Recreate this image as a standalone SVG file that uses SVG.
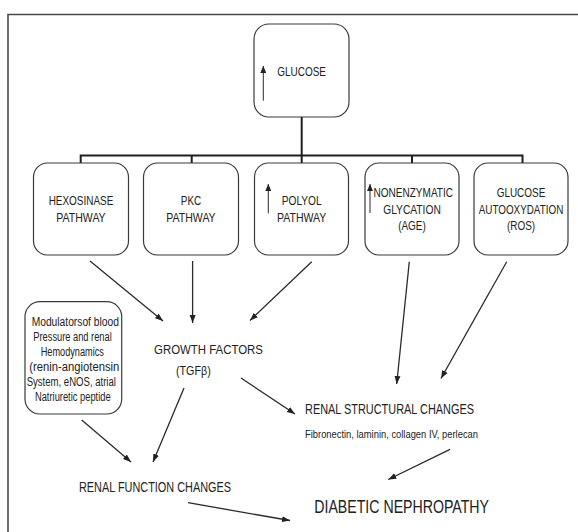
<svg xmlns="http://www.w3.org/2000/svg" width="578" height="532" viewBox="0 0 578 532">
<style>
  .box { fill: #fff; stroke: #3a3a3a; stroke-width: 1.2; }
  .t { font-family: "Liberation Sans", Arial, sans-serif; fill: #222; }
  .s12 { font-size: 12px; }
  .s14 { font-size: 14px; }
  .tree { stroke: #1e1e1e; stroke-width: 2; fill: none; }
  .c { stroke: #2a2a2a; stroke-width: 1.3; fill: none; marker-end: url(#ah); }
  .up { stroke: #2a2a2a; stroke-width: 1; fill: none; marker-end: url(#ahs); }
</style>
<defs>
  <marker id="ah" markerUnits="userSpaceOnUse" markerWidth="9" markerHeight="7" refX="8" refY="3.5" orient="auto">
    <path d="M0,0.5 L8,3.5 L0,6.5 z" fill="#222"/>
  </marker>
  <marker id="ahs" markerUnits="userSpaceOnUse" markerWidth="8" markerHeight="6" refX="7" refY="3" orient="auto">
    <path d="M0,0 L7,3 L0,6 z" fill="#222"/>
  </marker>
</defs>
<rect width="578" height="532" fill="#fff"/>
<path d="M8,532 L8,14.5 L578,14.5" stroke="#4a4a4a" stroke-width="1.6" fill="none"/>

<g id="connectors">
  <path class="tree" d="M301.7,117 V155.5 M80.7,163 V155.5 H522.5 V163 M191.7,155.5 V163 M301.7,155.5 V163 M412,155.5 V163"/>
  <line class="c" x1="90" y1="261" x2="163" y2="321"/>
  <line class="c" x1="192.6" y1="261" x2="192.6" y2="323"/>
  <line class="c" x1="311.7" y1="261.7" x2="250" y2="320.5"/>
  <line class="c" x1="409.3" y1="261.7" x2="396.7" y2="384"/>
  <line class="c" x1="506.7" y1="261.7" x2="441" y2="378.5"/>
  <line class="c" x1="241" y1="378" x2="295" y2="414"/>
  <line class="c" x1="184" y1="388" x2="153" y2="462"/>
  <line class="c" x1="81.7" y1="420" x2="131" y2="462"/>
  <line class="c" x1="450" y1="449.3" x2="388.3" y2="479.5"/>
  <line class="c" x1="188" y1="502.7" x2="290" y2="520.5"/>
</g>

<g id="glucose">
  <rect class="box" x="254" y="24" width="95" height="93" rx="15"/>
  <line class="up" x1="263.3" y1="100.7" x2="263.3" y2="66"/>
  <text class="t s12" x="277.3" y="76" textLength="48.7" lengthAdjust="spacingAndGlyphs">GLUCOSE</text>
</g>

<g id="hexosinase">
  <rect class="box" x="33.5" y="163" width="95" height="92" rx="14"/>
  <text class="t s12" x="81" y="205.3" text-anchor="middle" textLength="64.7" lengthAdjust="spacingAndGlyphs">HEXOSINASE</text>
  <text class="t s12" x="81" y="221.6" text-anchor="middle" textLength="49.3" lengthAdjust="spacingAndGlyphs">PATHWAY</text>
</g>

<g id="pkc">
  <rect class="box" x="143.5" y="163" width="95" height="92" rx="14"/>
  <text class="t s12" x="191" y="205.3" text-anchor="middle" textLength="20.5" lengthAdjust="spacingAndGlyphs">PKC</text>
  <text class="t s12" x="191" y="221.6" text-anchor="middle" textLength="49.3" lengthAdjust="spacingAndGlyphs">PATHWAY</text>
</g>

<g id="polyol">
  <rect class="box" x="254.5" y="163" width="94" height="92" rx="14"/>
  <line class="up" x1="268.3" y1="213.3" x2="268.3" y2="184"/>
  <text class="t s12" x="301.7" y="205.3" text-anchor="middle" textLength="39.9" lengthAdjust="spacingAndGlyphs">POLYOL</text>
  <text class="t s12" x="301.7" y="221.6" text-anchor="middle" textLength="49.3" lengthAdjust="spacingAndGlyphs">PATHWAY</text>
</g>

<g id="nonenzymatic">
  <rect class="box" x="365" y="163" width="94" height="92" rx="14"/>
  <line class="up" x1="370" y1="213" x2="370" y2="184"/>
  <text class="t s12" x="373.5" y="197" textLength="79.5" lengthAdjust="spacingAndGlyphs">NONENZYMATIC</text>
  <text class="t s12" x="412" y="214.3" text-anchor="middle" textLength="57.6" lengthAdjust="spacingAndGlyphs">GLYCATION</text>
  <text class="t s12" x="412" y="230.3" text-anchor="middle" textLength="27.7" lengthAdjust="spacingAndGlyphs">(AGE)</text>
</g>

<g id="autooxydation">
  <rect class="box" x="474" y="163" width="94" height="92" rx="14"/>
  <text class="t s12" x="521" y="197" text-anchor="middle" textLength="48.7" lengthAdjust="spacingAndGlyphs">GLUCOSE</text>
  <text class="t s12" x="521" y="214.3" text-anchor="middle" textLength="84.5" lengthAdjust="spacingAndGlyphs">AUTOOXYDATION</text>
  <text class="t s12" x="521" y="230.3" text-anchor="middle" textLength="28.2" lengthAdjust="spacingAndGlyphs">(ROS)</text>
</g>

<g id="modulators">
  <rect class="box" x="25" y="301.7" width="96.7" height="112.3" rx="15"/>
  <text class="t s12" x="75.3" y="326" text-anchor="middle" textLength="87.3" lengthAdjust="spacingAndGlyphs">Modulatorsof blood</text>
  <text class="t s12" x="72.5" y="340.9" text-anchor="middle" textLength="78.4" lengthAdjust="spacingAndGlyphs">Pressure and renal</text>
  <text class="t s12" x="72.3" y="355.8" text-anchor="middle" textLength="63.3" lengthAdjust="spacingAndGlyphs">Hemodynamics</text>
  <text class="t s12" x="74.3" y="370.7" text-anchor="middle" textLength="90" lengthAdjust="spacingAndGlyphs">(renin-angiotensin</text>
  <text class="t s12" x="71.3" y="385.6" text-anchor="middle" textLength="89.3" lengthAdjust="spacingAndGlyphs">System, eNOS, atrial</text>
  <text class="t s12" x="72.8" y="400.5" text-anchor="middle" textLength="75.7" lengthAdjust="spacingAndGlyphs">Natriuretic peptide</text>
</g>

<g id="growth-factors">
  <text class="t s12" x="154" y="354.3" textLength="109" lengthAdjust="spacingAndGlyphs">GROWTH FACTORS</text>
  <text class="t s12" x="176" y="375.3" textLength="34.7" lengthAdjust="spacingAndGlyphs">(TGFβ)</text>
</g>

<g id="renal-structural">
  <text class="t s14" x="305" y="414.3" textLength="169" lengthAdjust="spacingAndGlyphs">RENAL STRUCTURAL CHANGES</text>
  <text class="t" font-size="11.5" x="305" y="437.5" textLength="173" lengthAdjust="spacingAndGlyphs">Fibronectin, laminin, collagen IV, perlecan</text>
</g>

<g id="renal-function">
  <text class="t s14" x="79" y="491.7" textLength="152" lengthAdjust="spacingAndGlyphs">RENAL FUNCTION CHANGES</text>
</g>

<g id="diabetic-nephropathy">
  <text class="t" font-size="18.5" x="314.3" y="513.4" textLength="174.7" lengthAdjust="spacingAndGlyphs">DIABETIC NEPHROPATHY</text>
</g>
</svg>
